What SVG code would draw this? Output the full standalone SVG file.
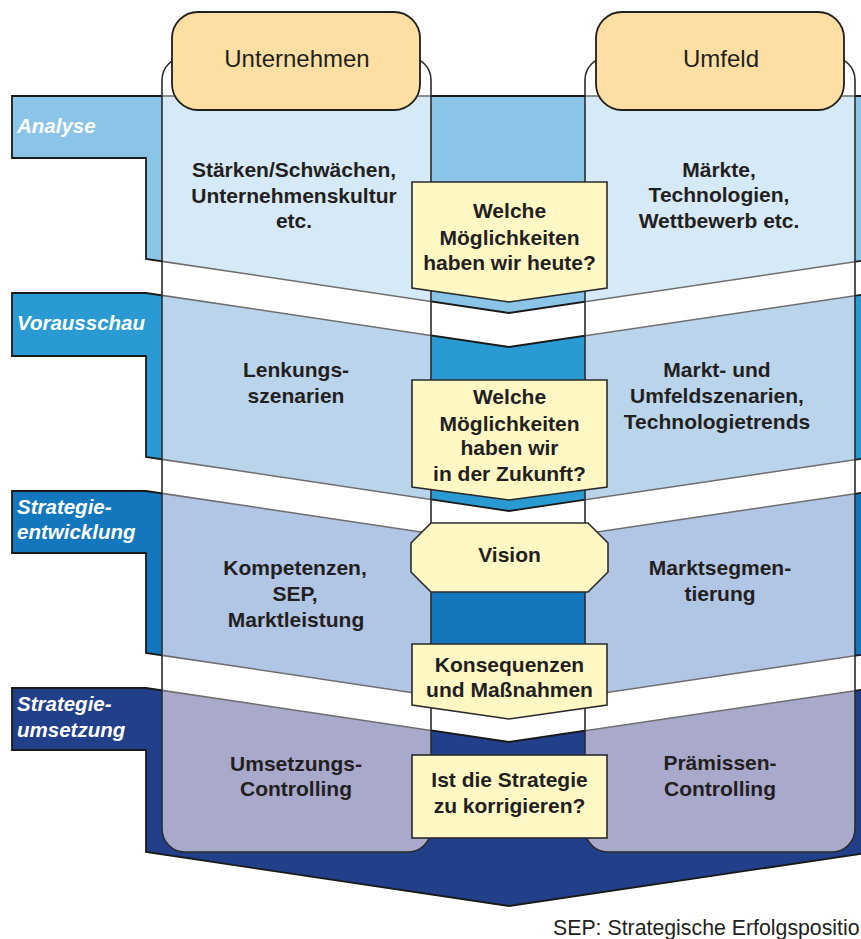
<svg xmlns="http://www.w3.org/2000/svg" xmlns:xlink="http://www.w3.org/1999/xlink" width="861" height="939" viewBox="0 0 861 939">
<style>
.bandstroke{stroke:#1a1a1a;stroke-width:1.8;stroke-linejoin:miter}
.lightband{stroke:#6e6e6e;stroke-width:1.5;stroke-linejoin:miter}
.panelbg{fill:#fff}
.panel{fill:none;stroke:#2b2b2b;stroke-width:1.6}
.head{fill:#FDDFA3;stroke:#1e1e1e;stroke-width:1.8}
.box{fill:#FFF8C5;stroke:#2a2a2a;stroke-width:1.6;stroke-linejoin:miter}
.t{font-family:"Liberation Sans",Arial,sans-serif;font-weight:bold;font-size:21px;fill:#231F20;text-anchor:middle}
.lab{font-family:"Liberation Sans",Arial,sans-serif;font-weight:bold;font-style:italic;font-size:20.5px;fill:#fff}
.h{font-family:"Liberation Sans",Arial,sans-serif;font-size:24px;fill:#231F20;text-anchor:middle}
.foot{font-family:"Liberation Sans",Arial,sans-serif;font-size:21.3px;fill:#231F20}
</style>
<defs>
<path id="b1" d="M12,96 L880,96 L880,258 L509,313 L146,259 L146,158 L12,158 Z"/>
<path id="b2" d="M12,293 L146,293 L509,347 L880,292 L880,456 L509,511 L146,457 L146,356 L12,356 Z"/>
<path id="b3" d="M12,491 L146,491 L509,545 L880,490 L880,652 L509,707 L146,653 L146,553 L12,553 Z"/>
<path id="b4" d="M12,688 L146,688 L509,742 L880,687 L880,851 L509,906 L146,852 L146,750 L12,750 Z"/>
<rect id="p1" x="162" y="57" width="269" height="795" rx="23" ry="23"/>
<rect id="p2" x="585" y="57" width="270" height="795" rx="23" ry="23"/>
<clipPath id="pc">
<use xlink:href="#p1"/>
<use xlink:href="#p2"/>
</clipPath>
</defs>
<rect width="861" height="939" fill="#fff"/>

<g id="band-analyse">
<use xlink:href="#b1" fill="#8AC5E8" class="bandstroke"/>
</g>
<g id="band-vorausschau">
<use xlink:href="#b2" fill="#2A9AD3" class="bandstroke"/>
</g>
<g id="band-strategieentwicklung">
<use xlink:href="#b3" fill="#1277BD" class="bandstroke"/>
</g>
<g id="band-strategieumsetzung">
<use xlink:href="#b4" fill="#223F8A" class="bandstroke"/>
</g>

<g id="panel-unternehmen">
<use xlink:href="#p1" class="panelbg"/>
</g>
<g id="panel-umfeld">
<use xlink:href="#p2" class="panelbg"/>
</g>

<g id="panel-bands" clip-path="url(#pc)">
<use xlink:href="#b1" fill="#D6E9F6" class="lightband"/>
<use xlink:href="#b2" fill="#BAD5EB" class="lightband"/>
<use xlink:href="#b3" fill="#B1C5E5" class="lightband"/>
<use xlink:href="#b4" fill="#A9A9CB" class="lightband"/>
</g>

<g id="panel-outlines">
<use xlink:href="#p1" class="panel"/>
<use xlink:href="#p2" class="panel"/>
</g>

<g id="head-unternehmen">
<rect class="head" x="172" y="12" width="248" height="98" rx="26" ry="26"/>
<text class="h" x="297" y="67">Unternehmen</text>
</g>
<g id="head-umfeld">
<rect class="head" x="596" y="12" width="248" height="98" rx="26" ry="26"/>
<text class="h" x="721" y="67">Umfeld</text>
</g>

<g id="labels">
<text class="lab" x="17" y="133">Analyse</text>
<text class="lab" x="17" y="330">Vorausschau</text>
<text class="lab" x="17" y="514">Strategie-</text>
<text class="lab" x="17" y="539">entwicklung</text>
<text class="lab" x="17" y="711">Strategie-</text>
<text class="lab" x="17" y="737">umsetzung</text>
</g>

<g id="text-unternehmen">
<text class="t" x="294" y="177">Stärken/Schwächen,</text>
<text class="t" x="294" y="202.5">Unternehmenskultur</text>
<text class="t" x="294" y="228">etc.</text>
<text class="t" x="296" y="377">Lenkungs-</text>
<text class="t" x="296" y="403">szenarien</text>
<text class="t" x="295" y="575">Kompetenzen,</text>
<text class="t" x="295" y="601">SEP,</text>
<text class="t" x="296" y="627">Marktleistung</text>
<text class="t" x="296" y="771">Umsetzungs-</text>
<text class="t" x="296" y="796">Controlling</text>
</g>

<g id="text-umfeld">
<text class="t" x="719" y="177">Märkte,</text>
<text class="t" x="719" y="202">Technologien,</text>
<text class="t" x="719" y="228">Wettbewerb etc.</text>
<text class="t" x="717" y="377">Markt- und</text>
<text class="t" x="717" y="403">Umfeldszenarien,</text>
<text class="t" x="717" y="428.5">Technologietrends</text>
<text class="t" x="720" y="575">Marktsegmen-</text>
<text class="t" x="720" y="601">tierung</text>
<text class="t" x="720" y="770">Prämissen-</text>
<text class="t" x="720" y="796">Controlling</text>
</g>

<g id="box-heute">
<path class="box" d="M412,182 L607,182 L607,288 L509,302 L412,288 Z"/>
<text class="t" x="509.5" y="218">Welche</text>
<text class="t" x="509.5" y="245">Möglichkeiten</text>
<text class="t" x="509.5" y="270">haben wir heute?</text>
</g>
<g id="box-zukunft">
<path class="box" d="M412,380 L607,380 L607,487 L509,500 L412,487 Z"/>
<text class="t" x="509.5" y="404">Welche</text>
<text class="t" x="509.5" y="430.5">Möglichkeiten</text>
<text class="t" x="509.5" y="455">haben wir</text>
<text class="t" x="509.5" y="480.5">in der Zukunft?</text>
</g>
<g id="box-vision">
<path class="box" d="M431,523 L588,523 L608,543 L608,572 L588,592 L431,592 L411,572 L411,543 Z"/>
<text class="t" x="509.5" y="561.5">Vision</text>
</g>
<g id="box-konsequenzen">
<path class="box" d="M412,644 L607,644 L607,705 L509,719 L412,705 Z"/>
<text class="t" x="509.5" y="671.5">Konsequenzen</text>
<text class="t" x="509.5" y="697">und Maßnahmen</text>
</g>
<g id="box-korrigieren">
<rect class="box" x="412" y="755" width="195" height="83"/>
<text class="t" x="509.5" y="787">Ist die Strategie</text>
<text class="t" x="509.5" y="813">zu korrigieren?</text>
</g>

<g id="footnote">
<text class="foot" x="553" y="935">SEP: Strategische Erfolgspositio</text>
</g>
</svg>
